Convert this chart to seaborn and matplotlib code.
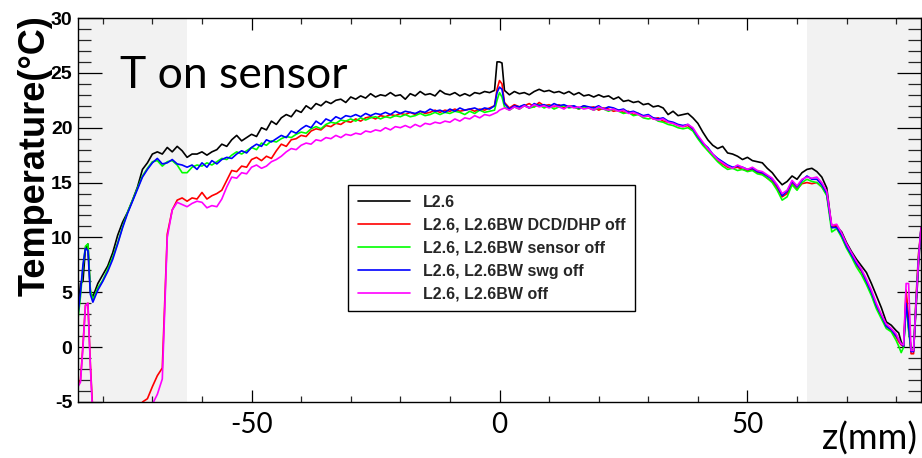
import numpy as np
import pandas as pd
import matplotlib
matplotlib.use("Agg")
import matplotlib.pyplot as plt
from matplotlib.ticker import MultipleLocator
import seaborn as sns

# ---------------- data ----------------
Z = ([-85, -84.5, -84, -83.5, -83, -82.5, -82] + list(range(-81, 0)) +
     [-0.5, 0, 0.5] + list(range(1, 81)) +
     [80.5, 81, 81.5, 82, 82.5, 83, 83.5, 84, 84.5, 85])

T_L26 = [3.2, 5.8, 6.0, 9.0, 9.4, 5.0, 4.6,
         5.8, 6.6, 7.4, 8.6, 10.2, 11.4, 12.3, 13.4, 14.6, 16.2,
         16.8, 17.6, 17.8, 17.6, 18.2, 17.8, 18.3, 17.9, 17.3, 17.6,
         17.6, 17.8, 17.5, 17.8, 18.0, 18.5, 18.3, 18.9, 19.3, 18.8,
         19.1, 19.4, 19.2, 20.0, 19.8, 20.6, 20.3, 20.9, 21.2, 21.0,
         21.6, 21.4, 22.0, 21.7, 22.2, 22.0, 22.4, 22.2, 22.5, 22.6,
         22.3, 22.8, 22.6, 22.9, 22.7, 23.1, 22.8, 23.0, 22.9, 23.2,
         22.9, 23.0, 22.6, 23.1, 22.9, 23.3, 23.0, 23.1, 22.9, 23.4,
         23.1, 23.0, 23.2, 22.9, 23.1, 22.9, 23.2, 23.1, 23.3, 23.2,
         23.4,
         26.0, 26.0, 25.9,
         23.4, 23.0, 23.3, 23.1, 23.2, 23.0, 23.3, 23.5, 23.3, 23.4,
         23.2, 23.3, 23.1, 23.3, 23.0, 23.2, 22.9, 23.0, 22.8, 23.0,
         22.8, 22.9, 22.6, 22.8, 22.4, 22.5, 22.3, 22.4, 22.1, 22.2,
         21.9, 22.0, 21.8, 21.2, 21.5, 21.1, 21.2, 21.3, 20.9, 20.4,
         19.6, 18.9, 18.4, 18.1, 18.3, 17.7, 17.6, 17.4, 17.1, 17.3,
         17.0, 16.9, 16.8, 16.3, 15.9, 15.3, 14.8, 15.1, 15.6, 15.3,
         15.9, 16.2, 16.3, 16.0, 15.5, 14.5, 10.9, 11.0, 10.5, 9.5,
         8.7, 8.0, 7.4, 6.8, 5.8, 4.7, 3.6, 2.3, 2.0, 1.5,
         1.3, 0.5, 0.0, 4.6, 1.8, -0.2, -0.3, 3.5, 7.5, 10.9]

T_DCD_OFF = [-3.4, -3.0, 0.2, 3.8, 4.0, -1.6, -6.0,
             -9.0, -9.0, -9.0, -9.0, -9.0, -9.0, -9.0, -9.0, -6.5, -5.0,
             -4.7, -3.6, -2.6, -1.9, 10.3, 12.5, 13.4, 13.6, 13.3, 13.6,
             13.5, 14.1, 13.5, 13.8, 14.0, 14.3, 15.2, 16.1, 16.0, 16.5,
             16.4, 17.1, 17.3, 17.0, 17.4, 17.2, 17.9, 18.5, 18.3, 18.9,
             19.0, 19.3, 19.2, 19.7, 19.9, 19.8, 20.2, 20.1, 20.4, 20.3,
             20.6, 20.5, 20.8, 20.6, 20.9, 21.0, 20.8, 21.1, 21.0, 21.2,
             21.1, 21.3, 21.2, 21.4, 21.2, 21.5, 21.3, 21.4, 21.6, 21.4,
             21.6, 21.5, 21.7, 21.5, 21.6, 21.7, 21.5, 21.7, 21.6, 21.8,
             22.0,
             23.5, 24.3, 24.0,
             22.3, 21.8, 22.1, 21.9, 22.0, 22.2, 21.9, 22.3, 22.0, 22.1,
             21.9, 22.1, 21.8, 22.0, 21.9, 21.7, 22.0, 21.8, 21.9, 21.6,
             21.8, 21.7, 21.5, 21.6, 21.4, 21.5, 21.2, 21.3, 21.0, 21.1,
             20.8, 20.9, 20.6, 20.5, 20.4, 20.2, 20.1, 20.2, 19.8, 19.1,
             18.5, 18.0, 17.5, 17.0, 16.7, 16.4, 16.3, 16.4, 16.2, 16.1,
             16.2, 15.9, 15.8, 15.4, 15.1, 14.5, 13.7, 14.0, 14.9, 14.4,
             14.9, 15.0, 14.9, 15.0, 14.6, 13.9, 11.0, 11.1, 10.1, 9.1,
             8.5, 7.5, 6.9, 5.9, 4.9, 3.7, 2.8, 1.9, 1.5, 0.9,
             0.5, 0.2, 0.1, 5.2, 2.5, -0.6, -0.6, 4.5, 8.5, 10.7]

T_SENSOR_OFF = [2.6, 4.6, 7.3, 9.2, 9.4, 5.2, 4.3,
                5.4, 6.1, 7.1, 8.2, 9.5, 11.0, 12.3, 13.4, 14.5, 15.6,
                16.3, 16.9, 17.0, 16.5, 16.9, 17.0, 16.6, 15.9, 15.9, 16.4,
                16.6, 16.5, 16.8, 16.6, 16.9, 17.2, 17.1, 17.5, 17.8, 17.6,
                17.9, 18.2, 18.0, 18.6, 18.4, 18.8, 18.7, 19.0, 19.2, 19.1,
                19.4, 19.6, 19.5, 19.9, 20.1, 19.9, 20.3, 20.5, 20.4, 20.7,
                20.6, 20.8, 20.6, 20.9, 20.7, 20.9, 21.0, 20.8, 21.0, 20.9,
                21.1, 21.0, 21.2, 21.0, 21.1, 21.3, 21.1, 21.2, 21.4, 21.2,
                21.4, 21.3, 21.5, 21.4, 21.2, 21.5, 21.3, 21.6, 21.4, 21.5,
                21.6,
                22.5, 23.2, 22.8,
                21.9, 21.6, 21.9, 21.7, 22.0, 21.8, 21.9, 22.1, 21.8, 22.0,
                21.7, 21.9, 22.0, 21.8, 21.9, 21.7, 21.9, 21.8, 21.6, 21.8,
                21.7, 21.5, 21.7, 21.5, 21.3, 21.4, 21.1, 21.2, 20.9, 20.8,
                20.9, 20.6, 20.5, 20.3, 20.2, 20.0, 19.9, 20.0, 19.7, 19.0,
                18.4, 17.9, 17.4, 16.9, 16.5, 16.2, 16.3, 16.1, 16.2, 16.0,
                16.1, 15.8, 15.7, 15.4, 15.0, 14.3, 13.4, 13.7, 14.8, 14.3,
                15.0, 15.3, 15.1, 15.0, 14.6, 13.8, 10.5, 10.8, 10.0, 9.0,
                8.2, 7.3, 6.6, 5.7, 4.7, 3.5, 2.6, 1.7, 1.4, 0.6,
                0.1, -0.5, 0.0, 3.8, 1.5, -0.3, -0.2, 4.2, 8.2, 10.6]

T_SWG_OFF = [3.0, 5.0, 7.5, 9.0, 8.8, 4.8, 4.1,
             5.2, 6.0, 6.9, 8.0, 9.4, 10.9, 12.2, 13.3, 14.4, 15.5,
             16.2, 16.8, 17.2, 16.7, 16.8, 17.1, 16.7, 16.6, 16.4, 16.6,
             16.2, 16.8, 16.4, 17.0, 16.7, 17.1, 17.3, 17.2, 17.6, 17.9,
             17.7, 18.2, 18.5, 18.3, 18.9, 18.7, 19.0, 19.3, 19.1, 19.7,
             19.5, 19.9, 20.2, 20.0, 20.6, 20.3, 20.8, 20.6, 21.0, 20.8,
             21.1, 21.0, 21.2, 21.0, 21.3, 21.1, 21.3, 21.2, 21.4, 21.2,
             21.5, 21.3, 21.5, 21.4, 21.3, 21.5, 21.4, 21.7, 21.5, 21.6,
             21.4, 21.7, 21.5, 21.8, 21.6, 21.7, 21.8, 21.6, 21.8, 21.7,
             22.0,
             23.2, 23.7, 23.5,
             22.2, 21.7, 22.0, 21.9, 22.1, 21.8, 22.2, 22.0, 22.1, 21.9,
             22.2, 22.0, 22.1, 21.9, 22.0, 21.8, 22.0, 21.9, 21.8, 22.0,
             21.7, 21.9, 21.8, 21.6, 21.7, 21.4, 21.5, 21.3, 21.1, 21.2,
             20.9, 20.8, 20.9, 20.6, 20.5, 20.3, 20.2, 20.3, 19.9, 19.2,
             18.6, 18.2, 17.6, 17.2, 16.9, 16.6, 16.4, 16.5, 16.4, 16.2,
             16.3, 16.0, 15.9, 15.6, 15.3, 14.7, 13.8, 14.2, 15.1, 14.6,
             15.2, 15.6, 15.3, 15.3, 14.8, 14.0, 10.9, 10.9, 10.2, 9.2,
             8.4, 7.6, 7.0, 6.0, 5.0, 3.8, 2.9, 1.9, 1.6, 1.0,
             0.7, 0.3, 0.1, 4.0, 2.0, -0.4, -0.4, 4.0, 8.0, 10.8]

T_ALL_OFF = [-3.6, -3.2, 0.0, 3.8, 4.0, -1.8, -6.5,
             -9.0, -9.0, -9.0, -9.0, -9.0, -9.0, -9.0, -9.0, -9.0, -9.0,
             -9.0, -5.2, -4.3, -2.9, 10.0, 12.5, 13.2, 13.0, 12.8, 13.1,
             13.3, 13.2, 12.7, 12.9, 12.8, 13.5, 14.6, 15.5, 15.4, 15.9,
             15.8, 16.4, 16.6, 16.3, 16.5, 16.9, 17.1, 17.4, 17.8, 18.1,
             18.0, 18.4, 18.6, 18.5, 18.9, 18.8, 19.1, 19.0, 19.3, 19.1,
             19.4, 19.3, 19.5, 19.4, 19.7, 19.6, 19.8, 19.7, 20.0, 19.8,
             20.1, 20.0, 20.2, 20.0, 20.3, 20.1, 20.4, 20.3, 20.5, 20.4,
             20.6, 20.5, 20.8, 20.6, 20.9, 20.8, 21.1, 20.9, 21.2, 21.1,
             21.3,
             21.4, 21.6, 21.7,
             21.8, 21.6, 21.9, 21.7, 22.0, 21.8, 22.1, 21.9, 22.0, 21.8,
             22.0, 21.9, 21.7, 22.0, 21.8, 21.9, 21.7, 21.8, 21.6, 21.9,
             21.7, 21.6, 21.7, 21.5, 21.6, 21.3, 21.4, 21.2, 21.0, 21.1,
             20.8, 20.7, 20.8, 20.5, 20.4, 20.2, 20.1, 20.3, 20.0, 19.3,
             18.7, 18.1, 17.6, 17.1, 16.8, 16.5, 16.3, 16.6, 16.4, 16.2,
             16.4, 16.1, 16.0, 15.7, 15.4, 14.8, 14.0, 14.3, 15.2, 14.7,
             15.3, 15.5, 15.4, 15.5, 15.0, 14.2, 11.1, 11.2, 10.4, 9.4,
             8.6, 7.8, 7.1, 6.2, 5.2, 4.0, 3.0, 2.1, 1.7, 1.2,
             0.7, 0.3, 0.2, 5.8, 5.8, -0.3, -0.3, 4.0, 8.0, 10.9]

LABELS = ["L2.6",
          "L2.6, L2.6BW DCD/DHP off",
          "L2.6, L2.6BW sensor off",
          "L2.6, L2.6BW swg off",
          "L2.6, L2.6BW off"]
SERIES = [T_L26, T_DCD_OFF, T_SENSOR_OFF, T_SWG_OFF, T_ALL_OFF]
COLORS = ["#000000", "#ff0000", "#00ff00", "#0000ff", "#ff00ff"]

X_TICKS = [-50, 0, 50]
Y_TICKS = [-5, 0, 5, 10, 15, 20, 25, 30]

# ---------------- build long-form table ----------------
frames = []
for lab, vals in zip(LABELS, SERIES):
    assert len(vals) == len(Z), (lab, len(vals), len(Z))
    frames.append(pd.DataFrame({"z": Z, "T": vals, "series": lab}))
df = pd.concat(frames, ignore_index=True)

# ---------------- figure ----------------
sns.set_style("ticks")
plt.rcParams["font.family"] = ["Liberation Sans", "DejaVu Sans"]

W, H = 922, 458
fig = plt.figure(figsize=(W / 100, H / 100), dpi=100)
L, R, TOP, BOT = 78, 921, 18, 402
ax = fig.add_axes([L / W, 1 - BOT / H, (R - L) / W, (BOT - TOP) / H])

ax.axvspan(-85, -63, color="#f2f2f2", lw=0, zorder=0)
ax.axvspan(62, 85, color="#f2f2f2", lw=0, zorder=0)

sns.lineplot(data=df, x="z", y="T", hue="series", hue_order=LABELS,
             palette=COLORS, estimator=None, sort=False, linewidth=1.2,
             ax=ax, legend=True)

ax.set_xlim(-85, 85)
ax.set_ylim(-5, 30)
ax.set_xlabel("")
ax.set_ylabel("")

for s in ax.spines.values():
    s.set_visible(True)
    s.set_color("black")
    s.set_linewidth(1.0)

ax.set_xticks(X_TICKS)
ax.set_xticklabels([str(v) for v in X_TICKS], fontfamily="Lato", fontsize=20)
ax.xaxis.set_minor_locator(MultipleLocator(10))
ax.set_yticks(Y_TICKS)
ax.set_yticklabels([str(v) for v in Y_TICKS], fontfamily="Liberation Sans",
                   fontweight="bold", fontsize=14)
ax.yaxis.set_minor_locator(MultipleLocator(1))

ax.tick_params(axis="x", which="major", direction="in", length=8.6, width=0.9,
               top=True, bottom=True, pad=7, colors="black")
ax.tick_params(axis="x", which="minor", direction="in", length=4.3, width=0.9,
               top=True, bottom=True)
ax.tick_params(axis="y", which="major", direction="in", length=17.5, width=0.9,
               left=True, right=True, pad=4, colors="black")
ax.tick_params(axis="y", which="minor", direction="in", length=9.4, width=0.9,
               left=True, right=True)

# legend
handles, labels = ax.get_legend_handles_labels()
leg = ax.legend(handles, labels, loc="upper left",
                bbox_to_anchor=((348 - L) / (R - L), (BOT - 185) / (BOT - TOP)),
                borderaxespad=0, frameon=True, fancybox=False, shadow=False,
                framealpha=1, edgecolor="black",
                prop={"family": "Liberation Sans", "weight": "bold", "size": 11.5},
                handlelength=3.3, handletextpad=0.8, labelspacing=0.5,
                borderpad=0.6)
leg.get_frame().set_linewidth(1.0)
for h in leg.get_lines():
    h.set_linewidth(1.2)

# texts
fig.text(120 / W, 1 - 88 / H, "T on sensor", fontfamily="Lato", fontsize=32,
         ha="left", va="baseline", color="black")
fig.text(917 / W, 1 - 450 / H, "z(mm)", fontfamily="Lato", fontsize=26,
         ha="right", va="baseline", color="black")
fig.text(35 / W, 1 - 156 / H, "Temperature(\u00b0C)", fontfamily="Liberation Sans",
         fontweight="bold", fontsize=26, rotation=90, ha="center", va="center",
         color="black")

fig.savefig("out.png", dpi=100)
